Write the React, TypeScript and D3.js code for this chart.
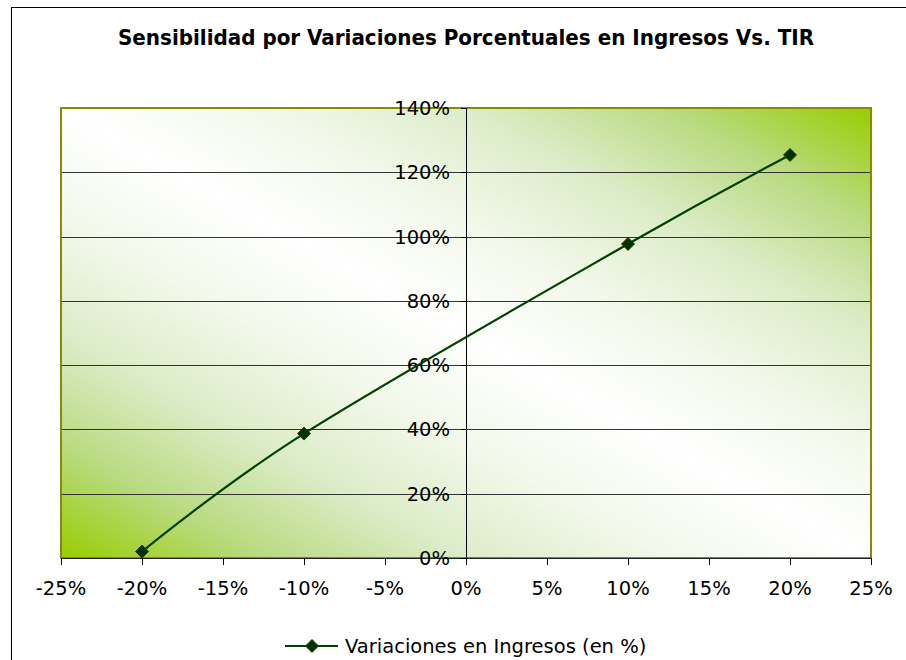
import React from "react";
import * as d3 from "d3";

const TITLE = "Sensibilidad por Variaciones Porcentuales en Ingresos Vs. TIR";
const SERIES_NAME = "Variaciones en Ingresos (en %)";
const xValues = [-20, -10, 10, 20];
const yValues = [2, 38.7, 97.7, 125.4];
const xTicks = [-25, -20, -15, -10, -5, 0, 5, 10, 15, 20, 25];
const yTicks = [0, 20, 40, 60, 80, 100, 120, 140];

const W = 906;
const H = 660;
const plot = { left: 61, right: 871, top: 108, bottom: 558 };
const FONT = "'DejaVu Sans', Verdana, sans-serif";
const TITLE_FONT = "'DejaVu Sans Condensed', 'DejaVu Sans', sans-serif";

export default function App() {
  const x = d3.scaleLinear().domain([-25, 25]).range([plot.left, plot.right]);
  const y = d3.scaleLinear().domain([0, 140]).range([plot.bottom, plot.top]);
  const pts: [number, number][] = xValues.map((v, i) => [v, yValues[i]]);
  const line = d3
    .line<[number, number]>()
    .x((d) => x(d[0]))
    .y((d) => y(d[1]))
    .curve(d3.curveCatmullRom.alpha(0));
  const diamond = (cx: number, cy: number, r: number) =>
    `M${cx},${cy - r}L${cx + r},${cy}L${cx},${cy + r}L${cx - r},${cy}Z`;

  return (
    <div style={{ position: "fixed", left: 0, top: 0, width: W, height: H, background: "#fff" }}>
      <svg width={W} height={H} style={{ display: "block" }}>
        <defs>
          <linearGradient id="bg" x1="0" y1="1" x2="1" y2="0">
            <stop offset="0" stopColor="#99cc00" />
            <stop offset="0.125" stopColor="#b9da80" />
            <stop offset="0.25" stopColor="#dcecc8" />
            <stop offset="0.375" stopColor="#f2f8ea" />
            <stop offset="0.5" stopColor="#ffffff" />
            <stop offset="0.625" stopColor="#f2f8ea" />
            <stop offset="0.75" stopColor="#dcecc8" />
            <stop offset="0.875" stopColor="#b9da80" />
            <stop offset="1" stopColor="#99cc00" />
          </linearGradient>
        </defs>
        {/* chart frame */}
        <rect x={11.5} y={7.5} width={1000} height={1000} fill="#fff" stroke="#000" strokeWidth={1} />
        {/* title */}
        <text
          x={466}
          y={45}
          textAnchor="middle"
          fontFamily={TITLE_FONT}
          fontWeight="bold"
          fontSize={21}
          textLength={696}
          lengthAdjust="spacingAndGlyphs"
          fill="#000"
        >
          {TITLE}
        </text>
        {/* plot area */}
        <rect
          x={plot.left}
          y={plot.top}
          width={plot.right - plot.left}
          height={plot.bottom - plot.top}
          fill="url(#bg)"
        />
        {/* gridlines */}
        {yTicks
          .filter((t) => t > 0 && t < 140)
          .map((t) => (
            <line
              key={"g" + t}
              x1={plot.left}
              x2={plot.right}
              y1={Math.round(y(t)) + 0.5}
              y2={Math.round(y(t)) + 0.5}
              stroke="#333"
              strokeWidth={1}
            />
          ))}
        {/* plot border */}
        <rect
          x={plot.left}
          y={plot.top}
          width={plot.right - plot.left}
          height={plot.bottom - plot.top}
          fill="none"
          stroke="#8a8a00"
          strokeWidth={2}
        />
        {/* x axis line */}
        <line x1={plot.left} x2={plot.right} y1={plot.bottom + 0.5} y2={plot.bottom + 0.5} stroke="#222" strokeWidth={1} />
        {/* y axis line */}
        <line x1={Math.round(x(0)) + 0.5} x2={Math.round(x(0)) + 0.5} y1={plot.top} y2={plot.bottom} stroke="#000" strokeWidth={1} />
        {/* y ticks and labels */}
        {yTicks.map((t) => (
          <g key={"y" + t}>
            <line
              x1={Math.round(x(0)) - 5}
              x2={Math.round(x(0)) + 0.5}
              y1={Math.round(y(t)) + 0.5}
              y2={Math.round(y(t)) + 0.5}
              stroke="#000"
              strokeWidth={1}
            />
            <text x={450} y={y(t) + 7} textAnchor="end" fontFamily={FONT} fontSize={19.5} fill="#000">
              {t + "%"}
            </text>
          </g>
        ))}
        {/* x ticks and labels */}
        {xTicks.map((t) => (
          <g key={"x" + t}>
            <line
              x1={Math.round(x(t)) + 0.5}
              x2={Math.round(x(t)) + 0.5}
              y1={plot.bottom}
              y2={plot.bottom + 7}
              stroke="#000"
              strokeWidth={1}
            />
            <text x={x(t)} y={595} textAnchor="middle" fontFamily={FONT} fontSize={19.5} fill="#000">
              {t + "%"}
            </text>
          </g>
        ))}
        {/* series */}
        <path d={line(pts) || ""} fill="none" stroke="#004000" strokeWidth={2.2} />
        {pts.map((p, i) => (
          <path key={"m" + i} d={diamond(x(p[0]), y(p[1]), 6.5)} fill="#003300" stroke="#333300" strokeWidth={1} />
        ))}
        {/* legend */}
        <line x1={285} x2={338} y1={646} y2={646} stroke="#004000" strokeWidth={2.2} />
        <path d={diamond(312, 646, 6.5)} fill="#003300" stroke="#333300" strokeWidth={1} />
        <text x={345} y={653} fontFamily={FONT} fontSize={19.5} fill="#000">
          {SERIES_NAME}
        </text>
      </svg>
    </div>
  );
}
